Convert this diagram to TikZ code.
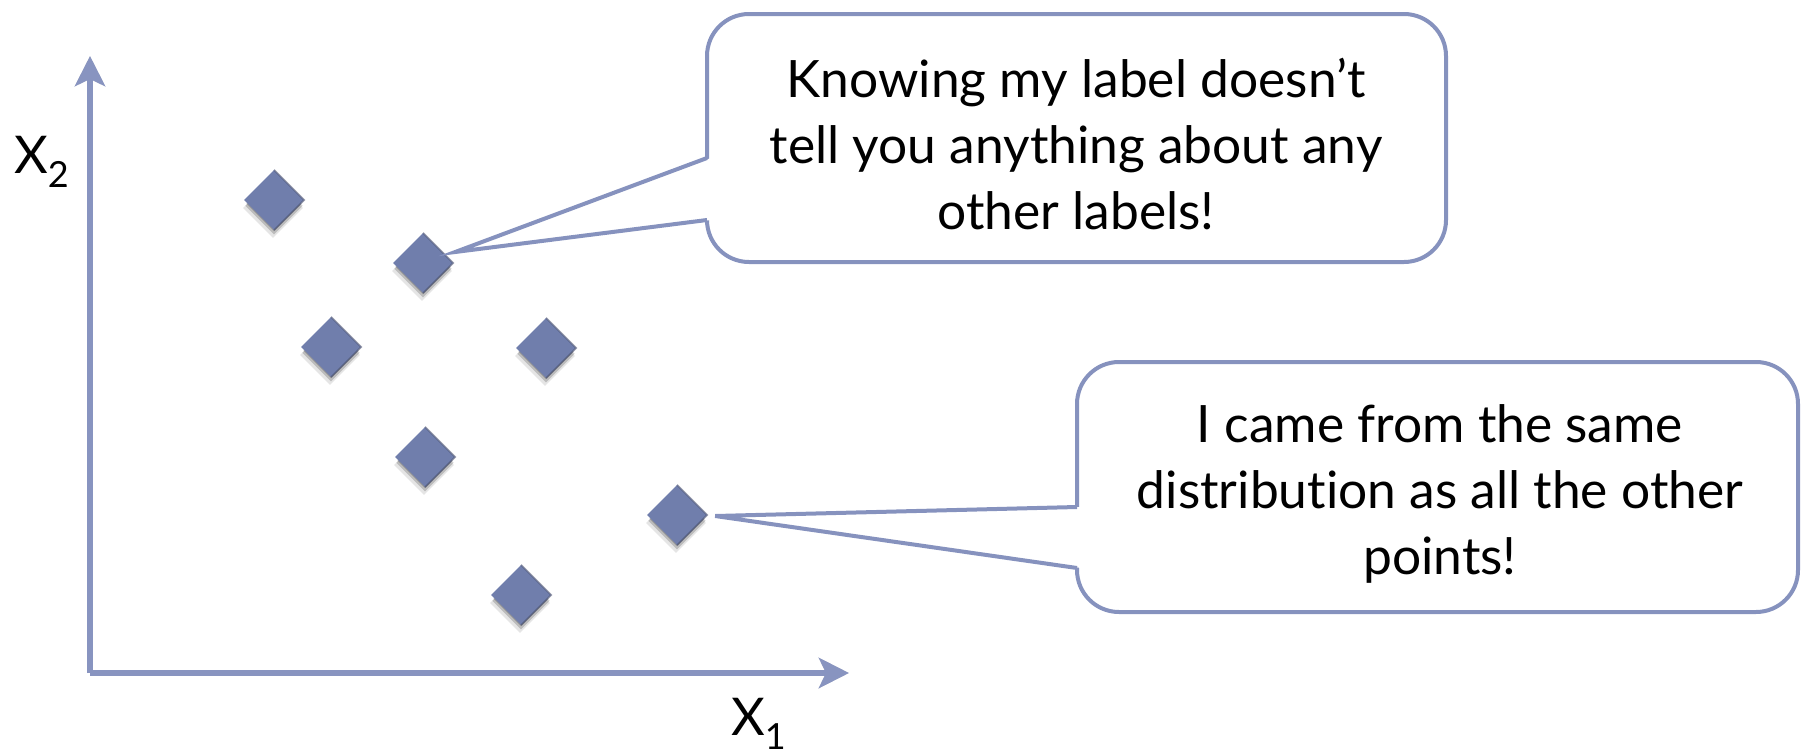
\documentclass[tikz,border=0pt]{standalone}
\usepackage{fontspec}
\setmainfont[Ligatures=NoCommon]{Lato}
\usetikzlibrary{arrows.meta,shapes.geometric,shadows,calc}

\definecolor{axisblue}{RGB}{136,148,192}
\definecolor{ptblue}{RGB}{112,126,172}
\definecolor{ptdark}{RGB}{60,68,100}
\definecolor{boxline}{RGB}{134,146,190}

\begin{document}
\begin{tikzpicture}[x=1pt,y=-1pt,
  axisline/.style={line width=6pt, draw=axisblue,
    -{Stealth[length=30pt,width=30pt,inset=7pt]}},
  axisshade/.style={line width=6pt, draw=black, opacity=0.12,
    -{Stealth[length=30pt,width=30pt,inset=7pt]}},
  point/.style={diamond, minimum width=60pt, minimum height=60pt,
    inner sep=0pt, fill=ptblue,
    general shadow={shadow yshift=-8pt, shadow xshift=-1pt, opacity=0.10, fill=black},
    general shadow={shadow yshift=-6pt, shadow scale=0.96, opacity=0.18, fill=black},
    general shadow={shadow yshift=-4pt, shadow scale=0.92, opacity=0.22, fill=black}},
  callout/.style={draw=boxline, line width=4pt, fill=white,
    rounded corners=42pt, inner sep=0pt},
  tail/.style={draw=boxline, line width=4pt, line join=miter},
  says/.style={align=center, font=\fontsize{51.5}{66}\selectfont, inner sep=0pt},
  axislabel/.style={font=\fontsize{52}{52}\selectfont, inner sep=0pt, anchor=base west}
]
\useasboundingbox (0,0) rectangle (1802,755);

% axes
\coordinate (o)  at (90,673);
\coordinate (xe) at (849,673);
\coordinate (ye) at (90,56);
\begin{scope}[shift={(2pt,-3pt)}]
  \draw[axisshade] (o) -- (xe);
  \draw[axisshade] (o) -- (ye);
\end{scope}
\draw[axisline] (o) -- (xe);
\draw[axisline] (o) -- (ye);

\node[axislabel] (xtwo) at (14,173) {X\raisebox{-0.28em}{\fontsize{36}{36}\selectfont 2}};
\node[axislabel] (xone) at (731,735) {X\raisebox{-0.28em}{\fontsize{36}{36}\selectfont 1}};

% data points
\node[point] (p1) at (274,200) {};
\node[point] (p2) at (423,263) {};
\node[point] (p3) at (331,347) {};
\node[point] (p4) at (546,348) {};
\node[point] (p5) at (425,457) {};
\node[point] (p6) at (677,515) {};
\node[point] (p7) at (521,595) {};
\foreach \p in {p1,p2,p3,p4,p5,p6,p7}{
  \draw[ptdark, line width=1.6pt, opacity=0.55] (\p.north) -- (\p.east) -- (\p.south);
}

% speech bubbles
\node[callout, minimum width=739pt, minimum height=248pt] (c1) at (1076.5,138) {};
\node[callout, minimum width=721pt, minimum height=250pt] (c2) at (1437.5,487) {};

\coordinate (t1a) at (707,158);
\coordinate (t1b) at (707,220);
\coordinate (t2a) at (1077,507);
\coordinate (t2b) at (1077,568);
\coordinate (tip1) at ($(p2.east)+(2,-11)$);
\coordinate (tip2) at ($(p6.east)+(8,1)$);

\fill[white] ($(t1a)+(4,0)$) -- (tip1) -- ($(t1b)+(4,0)$) -- cycle;
\draw[tail] (t1a) -- (tip1) -- (t1b);
\fill[white] ($(t2a)+(4,0)$) -- (tip2) -- ($(t2b)+(4,0)$) -- cycle;
\draw[tail] (t2a) -- (tip2) -- (t2b);

\node[says] (s1) at (1076,144) {Knowing my label doesn’t\\tell you anything about any\\other labels!};
\node[says] (s2) at (1440,494) {I came from the same\\distribution as all the other\\points!};
\end{tikzpicture}
\end{document}
